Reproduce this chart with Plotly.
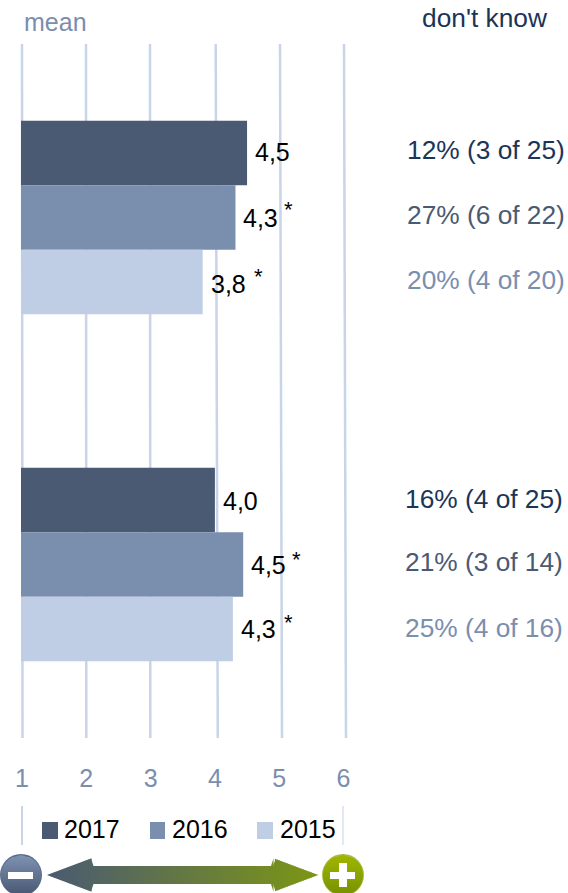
import plotly.graph_objects as go

W, H = 568, 893
groups = ["A", "B"]
years = ["2017", "2016", "2015"]
ticks = [1, 2, 3, 4, 5, 6]
values = {
    "2017": [4.5, 4.0],
    "2016": [4.32, 4.44],
    "2015": [3.81, 4.28],
}
labels = {
    "2017": ["4,5", "4,0"],
    "2016": ["4,3", "4,5"],
    "2015": ["3,8", "4,3"],
}
stars = {
    "2017": [False, False],
    "2016": [True, True],
    "2015": [True, True],
}
dont_know = {
    "2017": ["12% (3 of 25)", "16% (4 of 25)"],
    "2016": ["27% (6 of 22)", "21% (3 of 14)"],
    "2015": ["20% (4 of 20)", "25% (4 of 16)"],
}
colors = {"2017": "#4A5A73", "2016": "#7A8EAE", "2015": "#BFCEE5"}
dk_colors = {"2017": "#1A3557", "2016": "#4A5A73", "2015": "#7A8EAE"}
FONT = "Liberation Sans"
GRID = "#C8D4E8"
TICK = "#7A8EAE"
FS = 25
FS_DK = 26.3

UNIT = 64.3
X0 = 22.0
PL, PR = 21.0, X0 + 5 * UNIT
PT, PB = 44.0, 738.0

# text row centres in pixels
row_label_y = {"2017": [152, 501], "2016": [218, 565], "2015": [284, 629]}
row_dk_y = {"2017": [150, 499], "2016": [215, 562], "2015": [280, 628]}
star_y = {"2016": [209, 559], "2015": [276, 622]}
star_dx = {"2016": [41, 41], "2015": [43, 43]}
dk_right = [566, 564]
grid_top = [22, 86, 150, 215.7, 280, 344]
grid_bottom = [22.5, 86.3, 150.3, 217.8, 282, 346]


def px(x):
    return x / W


def py(y):
    return 1 - y / H


fig = go.Figure()
for yr in years:
    fig.add_trace(go.Bar(
        y=groups, x=values[yr], orientation="h", name=yr,
        marker=dict(color=colors[yr], line=dict(width=0)),
        showlegend=False,
    ))

shapes = []
for a, b in zip(grid_top, grid_bottom):
    shapes.append(dict(type="line", xref="paper", yref="paper", layer="below",
                       x0=px(a), x1=px(b), y0=py(PT), y1=py(PB),
                       line=dict(color=GRID, width=2.5)))
for xv in (1, 6):
    shapes.append(dict(type="line", xref="x", yref="paper", x0=xv, x1=xv,
                       y0=py(806), y1=py(845), line=dict(color=GRID, width=2)))

annotations = []


def text(x, y, s, size, color, anchor="left", xref="paper", xshift=0):
    annotations.append(dict(xref=xref, yref="paper", x=px(x) if xref == "paper" else x,
                            y=py(y), text=s, xshift=xshift, borderpad=0,
                            showarrow=False, xanchor=anchor, yanchor="middle",
                            font=dict(family=FONT, size=size, color=color)))


text(23, 22, "mean", FS, TICK)
text(485, 18, "don't know", FS_DK, "#1A3557", "center")
for yr in years:
    for i in range(2):
        text(values[yr][i], row_label_y[yr][i], labels[yr][i], FS, "#000000", xref="x", xshift=7)
        if stars[yr][i]:
            text(values[yr][i], star_y[yr][i], "*", 22, "#000000", xref="x",
                 xshift=7 + star_dx[yr][i])
        text(dk_right[i], row_dk_y[yr][i], dont_know[yr][i], FS_DK, dk_colors[yr], "right")

# legend
for sx, sw, tx, yr in ((42, 16, 63, "2017"), (150, 15, 171, "2016"), (257, 16, 279, "2015")):
    shapes.append(dict(type="rect", xref="paper", yref="paper", x0=px(sx), x1=px(sx + sw),
                       y0=py(839), y1=py(822), fillcolor=colors[yr], line=dict(width=0)))
    text(tx, 829, yr, FS, "#000000")


def lerp(a, b, t):
    return "rgb(%d,%d,%d)" % tuple(round(a[k] + (b[k] - a[k]) * t) for k in range(3))


# gradient double arrow, drawn as thin strips
L, R = 47.0, 318.0
HEAD = 45.0
CY = 875.0
STEP = 2.0
C_L, C_R = (74, 90, 115), (125, 150, 20)


def half(v):
    if v < L + HEAD:
        return (v - L) / HEAD * 17
    if v > R - HEAD:
        return (R - v) / HEAD * 17
    return 9


x = L
while x < R:
    nx = min(x + STEP, R)
    t = ((x + nx) / 2 - L) / (R - L)
    h0 = half(x)
    ex = min(nx + 0.5, R)
    h2 = half(ex)
    path = "M%f,%f L%f,%f L%f,%f L%f,%f Z" % (
        px(x), py(CY - h0), px(ex), py(CY - h2), px(ex), py(CY + h2), px(x), py(CY + h0))
    shapes.append(dict(type="path", xref="paper", yref="paper", path=path,
                       fillcolor=lerp(C_L, C_R, t), line=dict(width=0)))
    x = nx


def gradient_circle(cx, cy, r, top, bottom, edge):
    shapes.append(dict(type="circle", xref="paper", yref="paper", x0=px(cx - r), x1=px(cx + r),
                       y0=py(cy + r), y1=py(cy - r), fillcolor=edge, line=dict(width=0)))
    ri = r - 1
    y = cy - ri
    while y < cy + ri:
        ny = min(y + 2, cy + ri)
        w0 = max(ri ** 2 - (y - cy) ** 2, 0) ** 0.5
        w1 = max(ri ** 2 - (ny - cy) ** 2, 0) ** 0.5
        t = (y + 1 - (cy - ri)) / (2 * ri)
        ey = ny + 0.4
        path = "M%f,%f L%f,%f L%f,%f L%f,%f Z" % (
            px(cx - w0), py(y), px(cx + w0), py(y), px(cx + w1), py(ey), px(cx - w1), py(ey))
        shapes.append(dict(type="path", xref="paper", yref="paper", path=path,
                           fillcolor=lerp(top, bottom, t), line=dict(width=0)))
        y = ny


def rect(x0, x1, y0, y1, fill="#FFFFFF"):
    shapes.append(dict(type="rect", xref="paper", yref="paper", x0=px(x0), x1=px(x1),
                       y0=py(y1), y1=py(y0), fillcolor=fill, line=dict(width=0)))


gradient_circle(21, 875, 21, (128, 146, 178), (72, 88, 115), "#5A6C8C")
rect(8, 33, 872, 879)
gradient_circle(343, 875, 21, (160, 182, 0), (120, 145, 0), "#A9BC40")
rect(330, 355, 872, 879)
rect(339, 347, 863, 887)

fig.update_layout(
    width=W, height=H, autosize=False,
    margin=dict(l=0, r=0, t=0, b=0, autoexpand=False), paper_bgcolor="white", plot_bgcolor="rgba(0,0,0,0)",
    barmode="group", bargap=0.442, bargroupgap=0, showlegend=False,
    xaxis=dict(domain=[px(PL), px(PR)], range=[1 - (X0 - PL) / UNIT, 6], tickmode="array",
               tickvals=ticks, ticktext=[str(v) for v in ticks],
               showgrid=False, zeroline=False, showline=False,
               ticks="", tickfont=dict(family=FONT, size=FS, color=TICK), ticklabelstandoff=23),
    yaxis=dict(domain=[py(PB), py(PT)], autorange="reversed", showticklabels=False,
               showgrid=False, zeroline=False, showline=False, ticks=""),
    shapes=shapes, annotations=annotations,
)
fig.write_html(
    "out.html", config={"displayModeBar": False},
    post_script="document.body.style.margin='0';document.documentElement.style.overflow='hidden';",
)
